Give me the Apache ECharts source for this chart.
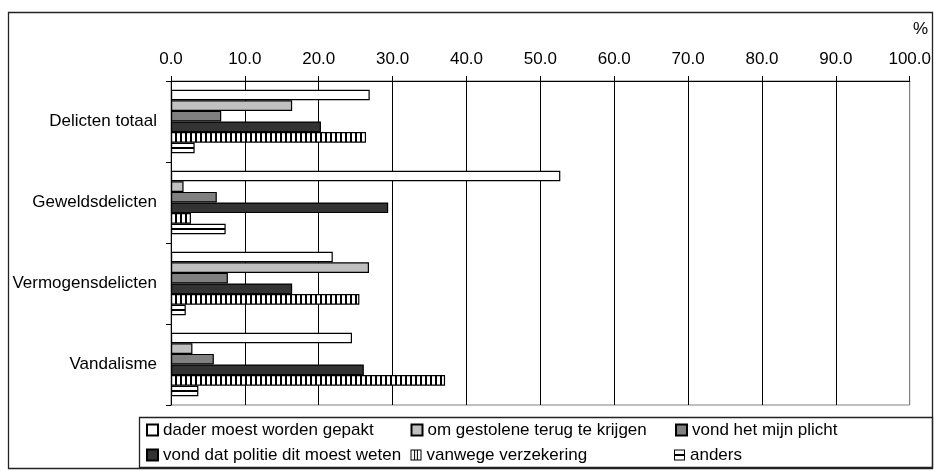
<!DOCTYPE html>
<html>
<head>
<meta charset="utf-8">
<script src="https://cdn.jsdelivr.net/npm/echarts@6/dist/echarts.min.js"></script>
<style>
  html, body { margin: 0; padding: 0; background: #fff; }
  #chart { width: 934px; height: 471px; }
</style>
</head>
<body>
<div id="chart"></div>
<script>
// ---- data ----
var categories = ['Delicten totaal', 'Geweldsdelicten', 'Vermogensdelicten', 'Vandalisme'];
var seriesNames = [
  'dader moest worden gepakt',
  'om gestolene terug te krijgen',
  'vond het mijn plicht',
  'vond dat politie dit moest weten',
  'vanwege verzekering',
  'anders'
];
var dader = [26.9, 52.7, 21.9, 24.5];
var gestolene = [16.4, 1.7, 26.8, 2.9];
var plicht = [6.8, 6.2, 7.7, 5.8];
var politie = [20.3, 29.4, 16.4, 26.1];
var verzekering = [26.4, 2.7, 25.5, 37.1];
var anders = [3.2, 7.4, 2.0, 3.7];
var xTicks = [0, 10, 20, 30, 40, 50, 60, 70, 80, 90, 100];

// ---- patterns ----
function vStripes() {
  var c = document.createElement('canvas');
  c.width = 5; c.height = 8;
  var g = c.getContext('2d');
  g.fillStyle = '#fff'; g.fillRect(0, 0, 5, 8);
  g.fillStyle = '#000'; g.fillRect(0, 0, 2, 8);
  return c;
}
function hLine() {
  var c = document.createElement('canvas');
  c.width = 8; c.height = 81;
  var g = c.getContext('2d');
  g.fillStyle = '#fff'; g.fillRect(0, 0, 8, 81);
  g.fillStyle = '#000'; g.fillRect(0, 66, 8, 2);
  return c;
}

var FONT = 'Liberation Sans, Arial, Helvetica, sans-serif';
var fills = ['#ffffff', '#c0c0c0', '#808080', '#333333',
  { image: vStripes(), repeat: 'repeat' },
  { image: hLine(), repeat: 'repeat' }];
var values = [dader, gestolene, plicht, politie, verzekering, anders];

var series = seriesNames.map(function (n, i) {
  return {
    name: n,
    type: 'bar',
    data: values[i],
    barWidth: 10.6,
    barGap: '0%',
    itemStyle: { color: fills[i], borderColor: '#000', borderWidth: 1.2 },
    emphasis: { disabled: true },
    silent: true
  };
});

var iconV = 'path://M0 0 L11 0 L11 11 L0 11 Z M1 1 L1 10 L3.6 10 L3.6 1 Z M4.6 1 L4.6 10 L6.4 10 L6.4 1 Z M7.4 1 L7.4 10 L10 10 L10 1 Z';
var iconH = 'path://M0 0 L11 0 L11 11 L0 11 Z M1 1 L1 4.6 L10 4.6 L10 1 Z M1 6.4 L1 10 L10 10 L10 6.4 Z';

var legendData = seriesNames.map(function (n, i) {
  if (i === 4) return { name: n, icon: iconV, itemStyle: { color: '#000', borderWidth: 0 } };
  if (i === 5) return { name: n, icon: iconH, itemStyle: { color: '#000', borderWidth: 0 } };
  return { name: n, icon: 'rect' };
});

var chart = echarts.init(document.getElementById('chart'), null, { renderer: 'canvas' });
chart.setOption({
  animation: false,
  backgroundColor: '#fff',
  title: {
    text: '%', right: 6, top: 21, padding: 0,
    textStyle: { fontFamily: FONT, fontSize: 17, fontWeight: 'normal', color: '#000' }
  },
  graphic: [
    { type: 'rect', shape: { x: 8.5, y: 12.5, width: 924, height: 456 },
      style: { fill: 'none', stroke: '#222', lineWidth: 1.3 }, z: 100, silent: true },
    { type: 'rect', shape: { x: 139.5, y: 417.5, width: 793, height: 50 },
      style: { fill: 'none', stroke: '#222', lineWidth: 1.3 }, z: 100, silent: true }
  ],
  grid: {
    left: 171, top: 81, width: 739, height: 324,
    show: true, borderColor: '#808080', borderWidth: 1, backgroundColor: 'transparent'
  },
  legend: {
    data: legendData,
    left: 146, top: 421, width: 790,
    padding: 0,
    itemWidth: 11, itemHeight: 11, itemGap: 7,
    selectedMode: false,
    textStyle: { fontFamily: FONT, fontSize: 17, color: '#000', width: 240.5, lineHeight: 18, overflow: 'none' }
  },
  xAxis: {
    type: 'value',
    position: 'top',
    min: xTicks[0], max: xTicks[xTicks.length - 1], interval: xTicks[1] - xTicks[0],
    axisLine: { show: true, lineStyle: { color: '#000', width: 1 } },
    axisTick: { show: true, length: 5, lineStyle: { color: '#000' } },
    axisLabel: {
      fontFamily: FONT, fontSize: 17, color: '#000', margin: 13,
      formatter: function (v) { return v.toFixed(1); }
    },
    splitLine: { show: true, lineStyle: { color: ['#000','#000','#000','#000','#000','#000','#000','#000','#000','#000','#808080'], width: 1 } }
  },
  yAxis: {
    type: 'category',
    inverse: true,
    data: categories,
    axisLine: { show: true, lineStyle: { color: '#000', width: 1 } },
    axisTick: { show: true, length: 5, lineStyle: { color: '#000' } },
    axisLabel: { fontFamily: FONT, fontSize: 17, color: '#000', margin: 14 },
    splitLine: { show: false }
  },
  series: series
});
</script>
</body>
</html>
